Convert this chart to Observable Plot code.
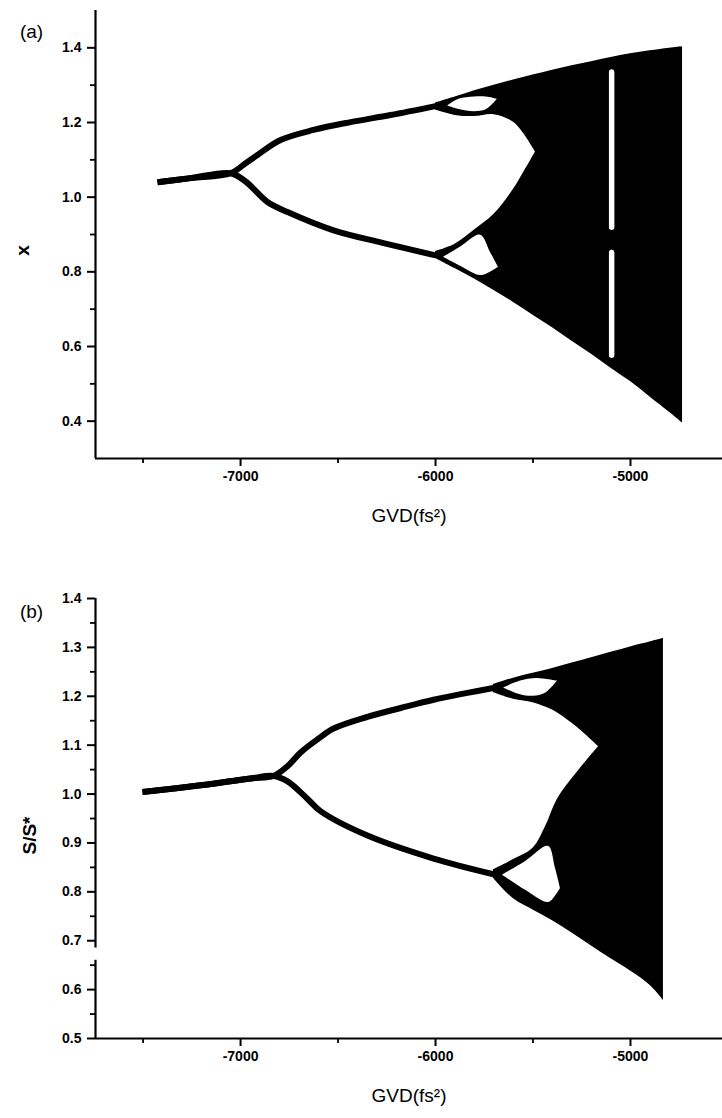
<!DOCTYPE html>
<html>
<head>
<meta charset="utf-8">
<script src="https://cdn.jsdelivr.net/npm/d3@7"></script>
<script src="https://cdn.jsdelivr.net/npm/@observablehq/plot@0.6"></script>
<style>
  html, body { margin: 0; padding: 0; background: #fff; }
  #page { position: relative; width: 722px; height: 1118px; overflow: hidden; background: #fff; }
  #panelA { position: absolute; left: 0; top: 0; }
  #panelB { position: absolute; left: 0; top: 560px; }
</style>
</head>
<body>
<div id="page"><div id="panelA"></div><div id="panelB"></div></div>
<script>
// ---------- shared axis data ----------
const gvdTicks = [-7000, -6000, -5000];
const gvdMinorTicks = [-7500, -6500, -5500];
const gvdDomain = [-7744, -4528];
const xLabel = "GVD(fs\u00B2)";

// ---------- panel (a) ----------
const aYTicks = [0.4, 0.6, 0.8, 1.0, 1.2, 1.4];
const aYMinorTicks = [0.5, 0.7, 0.9, 1.1, 1.3];
const aYDomain = [0.3, 1.5];

const aStableGvd = [-7426, -7256, -7051];
const aStableX   = [1.040, 1.051, 1.064];
const aUpperGvd  = [-7051, -6974, -6913, -6795, -6626, -6436, -6231, -6000];
const aUpperX    = [1.064, 1.091, 1.113, 1.153, 1.180, 1.201, 1.220, 1.244];
const aLowerGvd  = [-7051, -6974, -6862, -6759, -6523, -6267, -6000];
const aLowerX    = [1.064, 1.042, 0.987, 0.960, 0.911, 0.877, 0.844];

const aChaosGvd    = [-6000, -5900, -5800, -5700, -5600, -5500, -5400, -5300, -5200, -5100, -5000, -4900, -4800, -4733];
const aChaosTop    = [1.252, 1.268, 1.285, 1.300, 1.314, 1.327, 1.340, 1.352, 1.363, 1.374, 1.384, 1.392, 1.399, 1.403];
const aChaosBottom = [0.836, 0.809, 0.781, 0.750, 0.718, 0.684, 0.650, 0.614, 0.579, 0.542, 0.506, 0.465, 0.424, 0.395];

const aLensGvd    = [-6015, -5900, -5800, -5700, -5600, -5550, -5487];
const aLensTop    = [1.236, 1.219, 1.216, 1.221, 1.201, 1.172, 1.121];
const aLensBottom = [0.852, 0.874, 0.912, 0.954, 1.021, 1.064, 1.121];

const aLoopUpGvd    = [-5938, -5880, -5800, -5740, -5682];
const aLoopUpTop    = [1.244, 1.262, 1.268, 1.268, 1.262];
const aLoopUpBottom = [1.244, 1.235, 1.229, 1.234, 1.262];

const aLoopLowGvd    = [-5959, -5872, -5769, -5718, -5677];
const aLoopLowTop    = [0.839, 0.866, 0.898, 0.852, 0.812];
const aLoopLowBottom = [0.839, 0.815, 0.790, 0.799, 0.812];

const aWindowGvd    = [-5108, -5080];
const aWindowTop    = [1.341, 0.858];
const aWindowBottom = [0.911, 0.568];

// ---------- panel (b) ----------
const bYTicks = [0.5, 0.6, 0.7, 0.8, 0.9, 1.0, 1.1, 1.2, 1.3, 1.4];
const bYMinorTicks = [0.55, 0.65, 0.75, 0.85, 0.95, 1.05, 1.15, 1.25, 1.35];
const bYDomain = [0.5, 1.4];

const bStableGvd = [-7503, -7205, -6949, -6831];
const bStableS   = [1.004, 1.018, 1.032, 1.037];
const bUpperGvd  = [-6831, -6759, -6692, -6605, -6523, -6349, -6179, -6010, -5836, -5703];
const bUpperS    = [1.037, 1.057, 1.085, 1.112, 1.134, 1.158, 1.176, 1.193, 1.207, 1.217];
const bLowerGvd  = [-6831, -6759, -6656, -6590, -6349, -6010, -5703];
const bLowerS    = [1.037, 1.026, 0.990, 0.965, 0.915, 0.868, 0.836];

const bChaosGvd    = [-5703, -5600, -5500, -5400, -5300, -5200, -5100, -5000, -4900, -4831];
const bChaosTop    = [1.224, 1.237, 1.247, 1.257, 1.268, 1.279, 1.290, 1.301, 1.311, 1.318];
const bChaosBottom = [0.828, 0.786, 0.763, 0.741, 0.716, 0.689, 0.663, 0.638, 0.609, 0.578];

const bLensGvd    = [-5718, -5600, -5500, -5436, -5374, -5272, -5164];
const bLensTop    = [1.210, 1.194, 1.187, 1.178, 1.166, 1.136, 1.097];
const bLensBottom = [0.842, 0.866, 0.889, 0.933, 0.990, 1.045, 1.097];

const bLoopUpGvd    = [-5651, -5564, -5497, -5436, -5374];
const bLoopUpTop    = [1.217, 1.231, 1.236, 1.235, 1.231];
const bLoopUpBottom = [1.217, 1.203, 1.200, 1.206, 1.231];

const bLoopLowGvd    = [-5656, -5538, -5421, -5385, -5359];
const bLoopLowTop    = [0.834, 0.862, 0.893, 0.848, 0.807];
const bLoopLowBottom = [0.834, 0.803, 0.778, 0.791, 0.807];

// ---------- helpers ----------
const band = (g, top, bottom) => g.map((v, i) => ({g: v, top: top[i], bottom: bottom[i]}));
const path = (g, v, name) => g.map((x, i) => ({g: x, v: v[i], name}));
const branches = (sg, sv, ug, uv, lg, lv) => [
  ...path(sg, sv, "upper"), ...path(ug.slice(1), uv.slice(1), "upper"),
  ...path(sg, sv, "lower"), ...path(lg.slice(1), lv.slice(1), "lower")
];

const FONT = "'Liberation Sans', Arial, sans-serif";

function panel({height, marginTop, marginBottom, yDomain, yTicks, yMinor, yGap,
                lines, chaos, lens, loops, windowRects, tag, tagDy, yTitle, yTitleDx, yTitleDy}) {
  const xMin = gvdDomain[0];
  const axisSegs = yGap
    ? [{y1: yDomain[0], y2: yGap[0]}, {y1: yGap[1], y2: yDomain[1]}]
    : [{y1: yDomain[0], y2: yDomain[1]}];
  return Plot.plot({
    width: 722, height,
    marginTop, marginBottom, marginLeft: 95, marginRight: 0,
    style: {fontFamily: FONT, fontSize: "14px", color: "#000", background: "#fff", overflow: "visible"},
    x: {domain: gvdDomain, axis: null},
    y: {domain: yDomain, axis: null},
    marks: [
      Plot.areaY(chaos, {x: "g", y1: "bottom", y2: "top", fill: "#000", curve: "catmull-rom"}),
      Plot.areaY(lens, {x: "g", y1: "bottom", y2: "top", fill: "#fff", curve: "catmull-rom"}),
      ...loops.map(l => Plot.areaY(l, {x: "g", y1: "bottom", y2: "top", fill: "#fff", curve: "catmull-rom"})),
      ...(windowRects ? [Plot.rect(windowRects, {x1: "x1", x2: "x2", y1: "bottom", y2: "top", fill: "#fff", rx: 3})] : []),
      Plot.line(lines, {x: "g", y: "v", z: "name", stroke: "#000", strokeWidth: 6, curve: "catmull-rom",
                        strokeLinejoin: "round", strokeLinecap: "butt"}),
      // axes
      Plot.ruleY([yDomain[0]], {stroke: "#000", strokeWidth: 2.2}),
      Plot.ruleX(axisSegs, {x: xMin, y1: "y1", y2: "y2", stroke: "#000", strokeWidth: 2.2}),
      Plot.axisX(gvdTicks, {tickFormat: d => String(d), tickSize: 8, tickPadding: 5, strokeWidth: 2, strokeOpacity: 1,
                            fontSize: 14, fontWeight: "bold", label: null}),
      Plot.axisX(gvdMinorTicks, {tickFormat: () => "", tickSize: 5, strokeWidth: 1.8, strokeOpacity: 1, label: null}),
      Plot.axisY(yTicks, {tickFormat: d => d.toFixed(1), tickSize: 8, tickPadding: 6, strokeWidth: 2, strokeOpacity: 1,
                          fontSize: 14, fontWeight: "bold", label: null}),
      Plot.axisY(yMinor, {tickFormat: () => "", tickSize: 5, strokeWidth: 1.8, strokeOpacity: 1, label: null}),
      // titles
      Plot.text([xLabel], {frameAnchor: "bottom", dy: 63, fontSize: 19, textAnchor: "middle",
                           style: "letter-spacing:2.5px"}),
      Plot.text([yTitle], {frameAnchor: "left", dx: yTitleDx, dy: yTitleDy, rotate: -90, fontSize: 19,
                           fontWeight: "bold", textAnchor: "middle"}),
      Plot.text([tag], {frameAnchor: "top-left", dx: -64, dy: tagDy, fontSize: 19, textAnchor: "middle"})
    ]
  });
}

const chartA = panel({
  height: 545, marginTop: 10, marginBottom: 87,
  yDomain: aYDomain, yTicks: aYTicks, yMinor: aYMinorTicks,
  lines: branches(aStableGvd, aStableX, aUpperGvd, aUpperX, aLowerGvd, aLowerX),
  chaos: band(aChaosGvd, aChaosTop, aChaosBottom),
  lens: band(aLensGvd, aLensTop, aLensBottom),
  loops: [band(aLoopUpGvd, aLoopUpTop, aLoopUpBottom), band(aLoopLowGvd, aLoopLowTop, aLoopLowBottom)],
  windowRects: aWindowTop.map((t, i) => ({x1: aWindowGvd[0], x2: aWindowGvd[1], top: t, bottom: aWindowBottom[i]})),
  tag: "(a)", tagDy: 14, yTitle: "x", yTitleDx: -73, yTitleDy: 16
});
document.getElementById("panelA").appendChild(chartA);

const chartB = panel({
  height: 558, marginTop: 38, marginBottom: 80,
  yDomain: bYDomain, yTicks: bYTicks, yMinor: bYMinorTicks, yGap: [0.66, 0.685],
  lines: branches(bStableGvd, bStableS, bUpperGvd, bUpperS, bLowerGvd, bLowerS),
  chaos: band(bChaosGvd, bChaosTop, bChaosBottom),
  lens: band(bLensGvd, bLensTop, bLensBottom),
  loops: [band(bLoopUpGvd, bLoopUpTop, bLoopUpBottom), band(bLoopLowGvd, bLoopLowTop, bLoopLowBottom)],
  windowRects: null,
  tag: "(b)", tagDy: 6, yTitle: "S/S*", yTitleDx: -66, yTitleDy: 17
});
document.getElementById("panelB").appendChild(chartB);
</script>
</body>
</html>
